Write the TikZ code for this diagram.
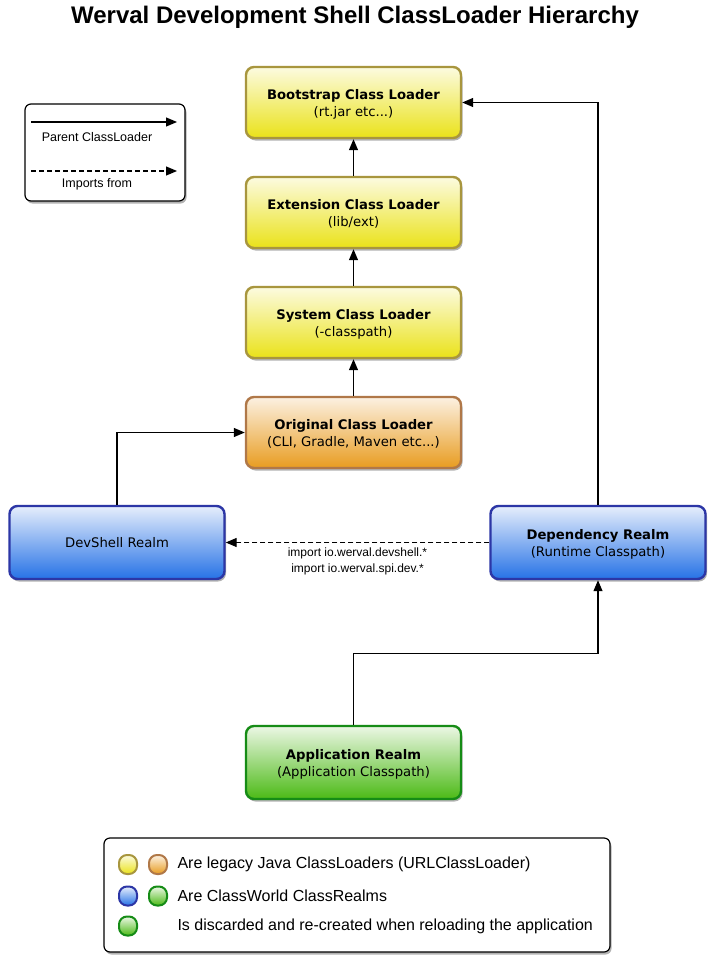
\documentclass[tikz,border=0pt]{standalone}
\usepackage{fontspec}
\setmainfont{Liberation Sans}
\newfontfamily\boxfont{DejaVu Sans}
\usepackage{tikz}
\usetikzlibrary{arrows.meta, positioning, calc, shadows}

\definecolor{yellowtop}{RGB}{252,251,224}
\definecolor{yellowmid}{RGB}{246,242,160}
\definecolor{yellowbot}{RGB}{234,226,25}
\definecolor{yellowline}{RGB}{168,150,62}
\definecolor{orangetop}{RGB}{252,241,226}
\definecolor{orangemid}{RGB}{245,206,145}
\definecolor{orangebot}{RGB}{232,156,32}
\definecolor{orangeline}{RGB}{176,120,72}
\definecolor{bluetop}{RGB}{230,238,252}
\definecolor{bluemid}{RGB}{162,196,245}
\definecolor{bluebot}{RGB}{38,114,230}
\definecolor{blueline}{RGB}{44,54,166}
\definecolor{greentop}{RGB}{236,247,229}
\definecolor{greenmid}{RGB}{168,221,142}
\definecolor{greenbot}{RGB}{76,186,22}
\definecolor{greenline}{RGB}{22,140,22}

\tikzset{
  loader/.style={draw, line width=2.4pt, rounded corners=8pt,
    minimum width=215pt, minimum height=71pt, align=center,
    font=\boxfont\fontsize{13.2}{17}\selectfont,
    drop shadow={shadow xshift=1.5pt, shadow yshift=-2.5pt, opacity=0.3, fill=black}},
  twolines/.style={text depth=-4pt},
  yellowbox/.style={loader, twolines, draw=yellowline, top color=yellowtop, middle color=yellowmid, bottom color=yellowbot},
  orangebox/.style={loader, twolines, draw=orangeline, top color=orangetop, middle color=orangemid, bottom color=orangebot},
  bluebox/.style={loader, draw=blueline, top color=bluetop, middle color=bluemid, bottom color=bluebot},
  greenbox/.style={loader, twolines, draw=greenline, top color=greentop, middle color=greenmid, bottom color=greenbot},
  keybox/.style={draw, line width=1.2pt, rounded corners=6pt, fill=white,
    drop shadow={shadow xshift=1.5pt, shadow yshift=-2.5pt, opacity=0.3, fill=black}},
  swatch/.style={line width=2pt, rounded corners=8pt, minimum width=18pt, minimum height=19pt, inner sep=0pt},
  parent/.style={-{Triangle[length=11pt,width=9pt]}, line width=1.2pt},
  imports/.style={parent, dash pattern=on 5pt off 3pt},
}

\begin{document}
\begin{tikzpicture}[x=1pt, y=-1pt]
\useasboundingbox[fill=white] (0,0) rectangle (713,974);

% title
\node[anchor=base, font=\bfseries\fontsize{24}{28}\selectfont] (title) at (355,24)
  {Werval Development Shell ClassLoader Hierarchy};

% legend for the connectors
\node[keybox, minimum width=160pt, minimum height=97pt] (arrowkey) at (105,152.5) {};
\coordinate (solidA) at (31,122);
\coordinate (solidB) at (177,122);
\coordinate (dashA) at (31,171);
\coordinate (dashB) at (177,171);
\draw[parent] (solidA) -- (solidB);
\draw[imports] (dashA) -- (dashB);
\node[font=\fontsize{12.5}{15}\selectfont] (parentlabel) at (97,137) {Parent ClassLoader};
\node[font=\fontsize{12.5}{15}\selectfont] (importlabel) at (97,184) {Imports from};

% class loaders
\node[yellowbox] (bootstrap) at (353.5,102.5) {\textbf{Bootstrap Class Loader}\\(rt.jar etc...)};
\node[yellowbox] (extension) at (353.5,212.5) {\textbf{Extension Class Loader}\\(lib/ext)};
\node[yellowbox] (system) at (353.5,322.5) {\textbf{System Class Loader}\\(-classpath)};
\node[orangebox] (original) at (353.5,432.5) {\textbf{Original Class Loader}\\(CLI, Gradle, Maven etc...)};

% realms
\node[bluebox, minimum height=73pt] (devshell) at (117,542.5) {DevShell Realm};
\node[bluebox, twolines, minimum height=73pt] (dependency) at (598,542.5) {\textbf{Dependency Realm}\\(Runtime Classpath)};
\node[greenbox, minimum height=73pt] (application) at (353.5,762.5) {\textbf{Application Realm}\\(Application Classpath)};

% parents
\draw[parent] (extension) -- (bootstrap);
\draw[parent] (system) -- (extension);
\draw[parent] (original) -- (system);
\draw[parent] (devshell.north) |- (original.west);
\draw[parent] (dependency.north) |- (bootstrap.east);
\draw[parent] (application.north) -- ++(0,-71) -| (dependency.south);

% imports
\draw[imports] (dependency.west) -- (devshell.east)
  node[midway, below=1.5pt, align=center, font=\fontsize{12}{16}\selectfont] (importtext)
  {import io.werval.devshell.*\\import io.werval.spi.dev.*};

% legend for the colours
\node[keybox, minimum width=506pt, minimum height=114pt] (colourkey) at (357,895) {};
\node[swatch, draw=yellowline, top color=yellowtop, middle color=yellowmid, bottom color=yellowbot] (keyyellow) at (128,864.5) {};
\node[swatch, draw=orangeline, top color=orangetop, middle color=orangemid, bottom color=orangebot] (keyorange) at (158,864.5) {};
\node[swatch, draw=blueline, top color=bluetop, middle color=bluemid, bottom color=bluebot] (keyblue) at (128,896) {};
\node[swatch, draw=greenline, top color=greentop, middle color=greenmid, bottom color=greenbot] (keygreen) at (158,896) {};
\node[swatch, draw=greenline, top color=greentop, middle color=greenmid, bottom color=greenbot] (keyreload) at (128,926) {};
\node[anchor=west, font=\fontsize{16}{19}\selectfont] (legacytext) at (174,864.5) {Are legacy Java ClassLoaders (URLClassLoader)};
\node[anchor=west, font=\fontsize{16}{19}\selectfont] (realmtext) at (174,896) {Are ClassWorld ClassRealms};
\node[anchor=west, font=\fontsize{16}{19}\selectfont] (reloadtext) at (174,926) {Is discarded and re-created when reloading the application};
\end{tikzpicture}
\end{document}
